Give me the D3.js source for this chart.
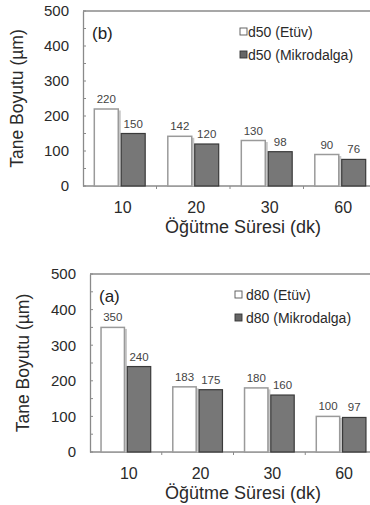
<!DOCTYPE html>
<html>
<head>
<meta charset="utf-8">
<script src="https://cdn.jsdelivr.net/npm/d3@7"></script>
<style>
  body { margin: 0; background: #fff; }
  svg { display: block; font-family: "Liberation Sans", Arial, sans-serif; }
</style>
</head>
<body>
<svg id="chart" width="370" height="505"></svg>
<script>
// data
const categories = ["10", "20", "30", "60"];
const yTicks = [0, 100, 200, 300, 400, 500];
const d50Etuv = [220, 142, 130, 90];
const d50Mikro = [150, 120, 98, 76];
const d80Etuv = [350, 183, 180, 100];
const d80Mikro = [240, 175, 160, 97];
const xTitle = "Öğütme Süresi (dk)";
const yTitle = "Tane Boyutu (µm)";

const svg = d3.select("#chart");

function drawPanel(opt) {
  const g = svg.append("g").attr("transform", "translate(" + opt.left + "," + opt.top + ")");
  const w = opt.width, h = opt.height;

  const x = d3.scaleBand().domain(categories).range([0, w]).padding(0);
  const xs = d3.scaleBand().domain(["e", "m"]).range([0, x.bandwidth()])
    .paddingInner(0.11).paddingOuter(0.42);
  const y = d3.scaleLinear().domain([0, 500]).range([h, 0]);

  // frame (top + right)
  g.append("path")
    .attr("d", "M0,0H" + w + "V" + h)
    .attr("fill", "none").attr("stroke", "#8a8a8a").attr("stroke-width", 1.3);

  // y axis
  const ya = g.append("g").call(d3.axisLeft(y).tickValues(yTicks).tickSize(0).tickPadding(14));
  ya.select(".domain").attr("stroke", "#8a8a8a").attr("stroke-width", 1.3);
  ya.selectAll("text").attr("font-size", 15).attr("fill", "#2a2a2a")
    .attr("font-family", "Liberation Sans, Arial, sans-serif");
  // inward minor/major ticks
  g.selectAll(".ytk").data(d3.range(0, 501, 50)).enter().append("line")
    .attr("x1", 0).attr("x2", 3)
    .attr("y1", d => y(d)).attr("y2", d => y(d))
    .attr("stroke", "#8a8a8a");

  // x axis
  g.append("line").attr("x1", 0).attr("x2", w).attr("y1", h).attr("y2", h)
    .attr("stroke", "#8a8a8a").attr("stroke-width", 1.3);
  g.selectAll(".xtk").data(categories.slice(1)).enter().append("line")
    .attr("x1", d => x(d)).attr("x2", d => x(d))
    .attr("y1", h).attr("y2", h + 3)
    .attr("stroke", "#8a8a8a");
  g.selectAll(".xlab").data(categories).enter().append("text")
    .attr("x", d => x(d) + x.bandwidth() / 2 + 3)
    .attr("y", h + 27)
    .attr("text-anchor", "middle").attr("font-size", 16).attr("fill", "#2a2a2a")
    .text(d => d);

  // bars
  const rows = categories.map((c, i) => ({ c: c, e: opt.etuv[i], m: opt.mikro[i] }));
  const grp = g.selectAll(".grp").data(rows).enter().append("g")
    .attr("transform", d => "translate(" + x(d.c) + ",0)");

  // shadow behind white bars
  grp.append("rect")
    .attr("x", xs("e") + 2.5).attr("y", d => y(d.e) + 1.5)
    .attr("width", xs.bandwidth()).attr("height", d => h - y(d.e) - 1.5)
    .attr("fill", "#c8c8c8");
  grp.append("rect")
    .attr("x", xs("e")).attr("y", d => y(d.e))
    .attr("width", xs.bandwidth()).attr("height", d => h - y(d.e))
    .attr("fill", "#fff").attr("stroke", "#9a9a9a").attr("stroke-width", 1.5);
  grp.append("rect")
    .attr("x", xs("m")).attr("y", d => y(d.m))
    .attr("width", xs.bandwidth()).attr("height", d => h - y(d.m))
    .attr("fill", "#777").attr("stroke", "#3a3a3a").attr("stroke-width", 1.2);

  grp.append("text")
    .attr("x", xs("e") + xs.bandwidth() / 2).attr("y", d => y(d.e) - 6)
    .attr("text-anchor", "middle").attr("font-size", 11.5).attr("fill", "#444")
    .text(d => d.e);
  grp.append("text")
    .attr("x", xs("m") + xs.bandwidth() / 2).attr("y", d => y(d.m) - 6)
    .attr("text-anchor", "middle").attr("font-size", 11.5).attr("fill", "#444")
    .text(d => d.m);

  // panel letter
  g.append("text").attr("x", 9).attr("y", 28)
    .attr("font-size", 17).attr("fill", "#222").text(opt.letter);

  // legend
  const lg = g.append("g").attr("transform", "translate(" + opt.legX + ",26)");
  [{ lab: opt.legE, fill: "#fff", stroke: "#555" }, { lab: opt.legM, fill: "#666", stroke: "#333" }]
    .forEach((it, i) => {
      lg.append("rect").attr("x", 0).attr("y", i * 23 - 9).attr("width", 7).attr("height", 7)
        .attr("fill", it.fill).attr("stroke", it.stroke).attr("stroke-width", 0.9);
      lg.append("text").attr("x", opt.legGap).attr("y", i * 23)
        .attr("font-size", 14).attr("fill", "#2a2a2a").text(it.lab);
    });

  // axis titles
  g.append("text")
    .attr("transform", "translate(" + opt.yTitleX + "," + (h / 2) + ") rotate(-90)")
    .attr("text-anchor", "middle").attr("font-size", 17.5).attr("fill", "#2a2a2a")
    .text(yTitle);
  g.append("text")
    .attr("x", 243 - opt.left).attr("y", h + 47)
    .attr("text-anchor", "middle").attr("font-size", 18).attr("fill", "#2a2a2a")
    .text(xTitle);
}

drawPanel({
  left: 83, top: 11, width: 294, height: 175,
  etuv: d50Etuv, mikro: d50Mikro, letter: "(b)",
  legE: "d50 (Etüv)", legM: "d50 (Mikrodalga)", legX: 157, legGap: 8,
  yTitleX: -60
});
drawPanel({
  left: 90, top: 274, width: 287, height: 178,
  etuv: d80Etuv, mikro: d80Mikro, letter: "(a)",
  legE: "d80 (Etüv)", legM: "d80 (Mikrodalga)", legX: 145, legGap: 11,
  yTitleX: -61
});
</script>
</body>
</html>
